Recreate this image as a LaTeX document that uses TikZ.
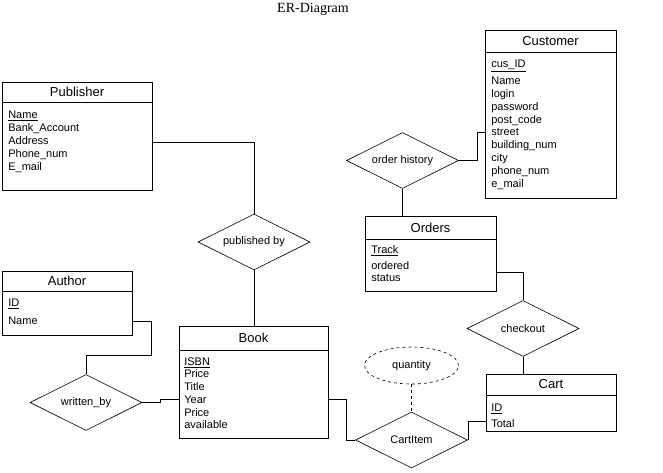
\documentclass[tikz,border=0pt]{standalone}
\usepackage{fontspec}
\setmainfont{Liberation Sans}
\newfontfamily\titlefont{Liberation Serif}
\usetikzlibrary{positioning}
\usetikzlibrary{shapes.geometric}

\tikzset{
  ehead/.style={draw,rectangle,inner sep=0pt,outer sep=0pt,font=\fontsize{13}{15}\selectfont},
  ebody/.style={draw,rectangle,inner sep=0pt,outer sep=0pt},
  attrs/.style={anchor=north west,align=left,inner sep=0pt,font=\fontsize{11}{12.8}\selectfont},
  rel/.style={draw,diamond,aspect=2,inner sep=0pt,minimum width=112pt,minimum height=56pt,font=\fontsize{11}{13}\selectfont},
  attr/.style={draw,dashed,ellipse,inner sep=0pt,minimum width=94pt,minimum height=37pt,font=\fontsize{11}{13}\selectfont}
}

\begin{document}
\begin{tikzpicture}[x=1pt,y=-1pt,line width=0.6pt]
    \useasboundingbox (0,0) rectangle (663,472);
    \node[font=\titlefont\fontsize{14}{16}\selectfont] (title) at (313,9.5) {ER-Diagram};
    % entities
    \node[ehead,minimum width=150,minimum height=20] (pub) at (77,92) {Publisher};
    \node[ebody,minimum width=150,minimum height=88,below=0pt of pub] (pubbox) {};
    \node[attrs] (pubattr) at ([xshift=6pt,yshift=-9pt]pubbox.north west)
      {\underline{Name}\\Bank\_Account\\Address\\Phone\_num\\E\_mail};
    \node[ehead,minimum width=131,minimum height=22] (cust) at (550.5,41) {Customer};
    \node[ebody,minimum width=131,minimum height=146,below=0pt of cust] (custbox) {};
    \node[attrs] (custattr) at ([xshift=6pt,yshift=-8pt]custbox.north west)
      {\underline{cus\_ID}\\[4pt]Name\\login\\password\\post\_code\\street\\building\_num\\city\\phone\_num\\e\_mail};
    \node[ehead,minimum width=131,minimum height=23] (ord) at (430.5,227.5) {Orders};
    \node[ebody,minimum width=131,minimum height=52,below=0pt of ord] (ordbox) {};
    \node[attrs] (ordattr) at ([xshift=6pt,yshift=-6pt]ordbox.north west)
      {\underline{Track}\\[3pt]ordered\\status};
    \node[ehead,minimum width=130,minimum height=20] (auth) at (67,281) {Author};
    \node[ebody,minimum width=130,minimum height=44,below=0pt of auth] (authbox) {};
    \node[attrs] (authattr) at ([xshift=6pt,yshift=-8pt]authbox.north west)
      {\underline{ID}\\[5pt]Name};
    \node[ehead,minimum width=149,minimum height=24] (book) at (253.5,338) {Book};
    \node[ebody,minimum width=149,minimum height=88,below=0pt of book] (bookbox) {};
    \node[attrs] (bookattr) at ([xshift=5pt,yshift=-8pt]bookbox.north west)
      {\underline{ISBN}\\[-1pt]Price\\Title\\Year\\Price\\available};
    \node[ehead,minimum width=130,minimum height=21] (cart) at (551,384.5) {Cart};
    \node[ebody,minimum width=130,minimum height=36,below=0pt of cart] (cartbox) {};
    \node[attrs] (cartattr) at ([xshift=5pt,yshift=-9pt]cartbox.north west)
      {\underline{ID}\\[3pt]Total};
    % relationships
    \node[rel] (pubby) at (254,242) {published by};
    \node[rel] (ohist) at (402.5,160.5) {order history};
    \node[rel] (wby) at (86,402.5) {written\_by};
    \node[rel] (chk) at (523,328.5) {checkout};
    \node[rel] (citem) at (411.5,440) {CartItem};
    \node[attr] (qty) at (411.5,365.5) {quantity};
    % connectors
    \draw ([yshift=4pt]pubbox.east) -| (pubby.north);
    \draw (pubby.south) -- (pubby.south |- book.north);
    \draw ([yshift=-7pt]custbox.west) -- ++(-8,0) |- (ohist.east);
    \draw (ohist.south) -- (ohist.south |- ord.north);
    \draw ([yshift=-7pt]ordbox.east) -| (chk.north);
    \draw (chk.south) -- (chk.south |- cart.north);
    \draw ([yshift=-8pt]authbox.east) -- ++(19,0) -- ++(0,34) -| (wby.north);
    \draw (wby.east) -- ++(18,0) |- ([yshift=-5pt]bookbox.west);
    \draw ([yshift=-5pt]bookbox.east) -- ++(18,0) |- (citem.west);
    \draw (citem.east) |- ([yshift=-8pt]cartbox.west);
    \draw[dashed] (qty.south) -- (citem.north);
  \end{tikzpicture}
\end{document}
